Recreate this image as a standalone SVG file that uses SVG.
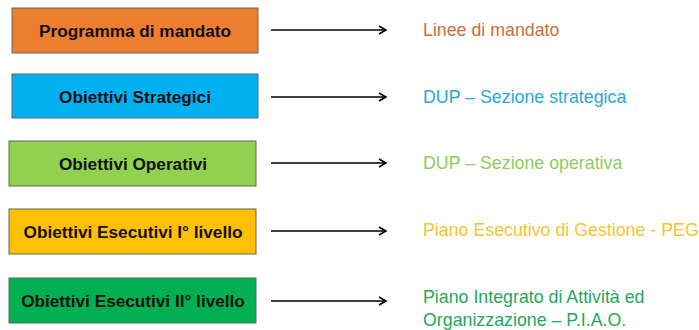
<svg xmlns="http://www.w3.org/2000/svg" width="699" height="330" viewBox="0 0 699 330">
<style>
.box{stroke:#5a6b5a;stroke-width:1}
.bt{font-family:"Liberation Sans",Arial,sans-serif;font-size:17.2px;font-weight:bold;fill:#111;text-anchor:middle}
.rt{font-family:"Liberation Sans",Arial,sans-serif;font-size:17.8px}
.arr{stroke:#000;stroke-width:1.5;fill:none}
</style>
<defs>
<marker id="ah" markerWidth="10" markerHeight="10" refX="8" refY="5" orient="auto" markerUnits="userSpaceOnUse">
<path d="M1,1 L8,5 L1,9" fill="none" stroke="#000" stroke-width="1.5"/>
</marker>
</defs>
<rect width="699" height="330" fill="#fff"/>
<g id="n1"><rect class="box" x="12" y="8" width="246" height="45" fill="#ED7D31"/><text class="bt" x="135" y="37">Programma di mandato</text></g>
<g id="n2"><rect class="box" x="12" y="74" width="246" height="44" fill="#00B0F0"/><text class="bt" x="135" y="103">Obiettivi Strategici</text></g>
<g id="n3"><rect class="box" x="9" y="141" width="247" height="45" fill="#92D050"/><text class="bt" x="133" y="170">Obiettivi Operativi</text></g>
<g id="n4"><rect class="box" x="9" y="209" width="247" height="45" fill="#FFC000"/><text class="bt" x="133" y="238">Obiettivi Esecutivi I° livello</text></g>
<g id="n5"><rect class="box" x="9" y="278" width="247" height="45" fill="#00B050"/><text class="bt" x="133" y="307">Obiettivi Esecutivi II° livello</text></g>
<g id="t1"><text class="rt" x="423" y="36" fill="#C5703A">Linee di mandato</text></g>
<g id="t2"><text class="rt" x="423" y="103" fill="#2AA8DA">DUP – Sezione strategica</text></g>
<g id="t3"><text class="rt" x="423" y="169" fill="#8FCB5C">DUP – Sezione operativa</text></g>
<g id="t4"><text class="rt" x="423" y="236" fill="#F5C431">Piano Esecutivo di Gestione - PEG</text></g>
<g id="t5"><text class="rt" x="423" y="303" fill="#1FA85A">Piano Integrato di Attività ed</text><text class="rt" x="423" y="326" fill="#1FA85A">Organizzazione – P.I.A.O.</text></g>
<g id="connectors">
<line class="arr" x1="271" y1="30" x2="386" y2="30" marker-end="url(#ah)"/>
<line class="arr" x1="271" y1="97" x2="386" y2="97" marker-end="url(#ah)"/>
<line class="arr" x1="271" y1="163" x2="386" y2="163" marker-end="url(#ah)"/>
<line class="arr" x1="271" y1="231" x2="386" y2="231" marker-end="url(#ah)"/>
<line class="arr" x1="271" y1="301" x2="386" y2="301" marker-end="url(#ah)"/>
</g>
</svg>
